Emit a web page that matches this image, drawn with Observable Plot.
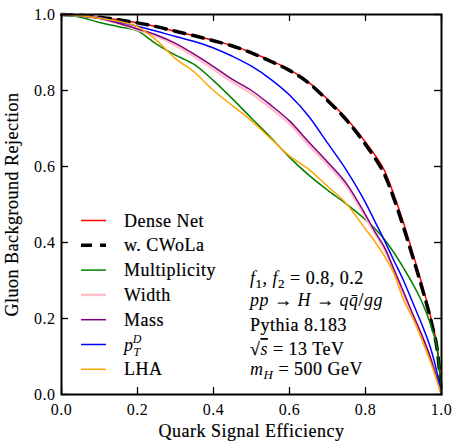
<!DOCTYPE html>
<html><head><meta charset="utf-8">
<script src="https://cdn.jsdelivr.net/npm/d3@7"></script>
<script src="https://cdn.jsdelivr.net/npm/@observablehq/plot@0.6"></script>
<style>html,body{margin:0;padding:0;background:#fff;} svg{display:block}</style>
</head><body><div id="chart"></div>
<script>
// Quark signal efficiency (x) sample points
const effic        = [0, 0.05, 0.1, 0.15, 0.2, 0.25, 0.3, 0.35, 0.4, 0.45, 0.5, 0.55, 0.6, 0.65, 0.7, 0.75, 0.8, 0.825, 0.85, 0.875, 0.9, 0.925, 0.95, 0.975, 0.99, 1.0];
// Gluon background rejection for each classifier
const denseNet     = [1, 0.998, 0.993, 0.986, 0.978, 0.968, 0.956, 0.944, 0.932, 0.918, 0.900, 0.879, 0.855, 0.822, 0.777, 0.726, 0.664, 0.630, 0.589, 0.525, 0.452, 0.370, 0.285, 0.190, 0.115, 0];
const cwola        = [1, 0.998, 0.993, 0.986, 0.978, 0.968, 0.956, 0.944, 0.931, 0.917, 0.899, 0.877, 0.853, 0.820, 0.774, 0.722, 0.658, 0.622, 0.579, 0.515, 0.440, 0.360, 0.276, 0.183, 0.108, 0];
const multiplicity = [1, 0.993, 0.979, 0.968, 0.957, 0.922, 0.893, 0.868, 0.826, 0.778, 0.727, 0.677, 0.624, 0.578, 0.538, 0.501, 0.460, 0.436, 0.408, 0.373, 0.333, 0.290, 0.240, 0.172, 0.110, 0];
const widthVar     = [1, 0.997, 0.990, 0.976, 0.960, 0.943, 0.919, 0.889, 0.856, 0.822, 0.792, 0.754, 0.712, 0.657, 0.605, 0.548, 0.467, 0.424, 0.382, 0.326, 0.266, 0.207, 0.150, 0.083, 0.034, 0];
const mass         = [1, 0.997, 0.990, 0.977, 0.962, 0.946, 0.924, 0.895, 0.863, 0.829, 0.800, 0.762, 0.720, 0.665, 0.612, 0.555, 0.473, 0.428, 0.387, 0.329, 0.270, 0.210, 0.152, 0.085, 0.035, 0];
const ptd          = [1, 0.997, 0.990, 0.981, 0.969, 0.956, 0.942, 0.929, 0.912, 0.890, 0.864, 0.830, 0.788, 0.733, 0.662, 0.590, 0.505, 0.455, 0.405, 0.352, 0.300, 0.240, 0.180, 0.110, 0.050, 0];
const lha          = [1, 0.997, 0.990, 0.982, 0.968, 0.932, 0.884, 0.848, 0.800, 0.760, 0.720, 0.674, 0.628, 0.593, 0.548, 0.502, 0.435, 0.402, 0.364, 0.318, 0.250, 0.200, 0.140, 0.075, 0.030, 0];

const seriesNames  = ["Dense Net", "w. CWoLa", "Multiplicity", "Width", "Mass", "pTD", "LHA"];
const seriesValues = [denseNet, cwola, multiplicity, widthVar, mass, ptd, lha];
const seriesColors = ["#ff0000", "#000000", "#008000", "#ffc0cb", "#800080", "#0000ff", "#ffa500"];
const seriesWidths = [1.5, 3.5, 1.5, 2.5, 1.5, 1.5, 1.5];
const seriesDash   = [null, "11,8", null, null, null, null, null];

const xTicks = [0, 0.2, 0.4, 0.6, 0.8, 1.0];
const yTicks = [0, 0.2, 0.4, 0.6, 0.8, 1.0];

const W = 453, H = 442, mL = 61, mR = 12, mT = 14, mB = 48;
const frameH = H - mT - mB, frameW = W - mL - mR, tickLen = 7;
const FONT = "Liberation Serif";
const EMB = 0.2; // slight emboldening to mimic the heavier TeX rendering

const lineMarks = seriesValues.map((vals, i) =>
  Plot.line(effic.map((e, j) => ({x: e, y: vals[j]})), {
    x: "x", y: "y", stroke: seriesColors[i], strokeWidth: seriesWidths[i],
    strokeDasharray: seriesDash[i], curve: "monotone-x"
  })
);

const plot = Plot.plot({
  width: W, height: H,
  marginLeft: mL, marginRight: mR, marginTop: mT, marginBottom: mB,
  x: {domain: [0, 1]},
  y: {domain: [0, 1]},
  style: {fontFamily: FONT, background: "#fff", color: "#000", letterSpacing: "0.5px"},
  marks: [
    ...lineMarks,
    Plot.frame({stroke: "#000", strokeWidth: 2}),
    Plot.tickX(xTicks, {x: d => d, insetTop: frameH - tickLen, stroke: "#000", strokeWidth: 1.3}),
    Plot.tickX(xTicks, {x: d => d, insetBottom: frameH - tickLen, stroke: "#000", strokeWidth: 1.3}),
    Plot.tickY(yTicks, {y: d => d, insetRight: frameW - tickLen, stroke: "#000", strokeWidth: 1.3}),
    Plot.tickY(yTicks, {y: d => d, insetLeft: frameW - tickLen, stroke: "#000", strokeWidth: 1.3}),
    Plot.axisX(xTicks, {tickSize: 0, tickPadding: 9, tickFormat: d3.format(".1f"), fontSize: 16, label: null}),
    Plot.axisY(yTicks, {tickSize: 0, tickPadding: 6, tickFormat: d3.format(".1f"), fontSize: 16, label: null}),
    Plot.text(["Quark Signal Efficiency"], {frameAnchor: "bottom", dy: 37, fontSize: 18, fill: "#000", stroke: "#000", strokeWidth: EMB, textAnchor: "middle", lineAnchor: "middle"}),
    Plot.text(["Gluon Background Rejection"], {frameAnchor: "left", dx: -49, rotate: -90, fontSize: 18, fill: "#000", stroke: "#000", strokeWidth: EMB, textAnchor: "middle", lineAnchor: "middle"})
  ]
});
document.getElementById("chart").appendChild(plot);

const svg = d3.select(plot);

// Legend
const leg = svg.append("g").attr("font-family", FONT).attr("font-size", 18)
  .attr("letter-spacing", "0.5px").attr("text-anchor", "start");
const legX1 = 81, legX2 = 106, legTextX = 124, legRow0 = 220.5, legStep = 24.8;
seriesNames.forEach((name, i) => {
  const y = legRow0 + i * legStep;
  leg.append("line").attr("x1", legX1).attr("x2", legX2).attr("y1", y).attr("y2", y)
    .attr("stroke", seriesColors[i]).attr("stroke-width", seriesWidths[i])
    .attr("stroke-dasharray", seriesDash[i]);
  const t = leg.append("text").attr("x", legTextX).attr("y", y + 6).attr("fill", "#000");
  if (name === "pTD") {
    t.append("tspan").attr("font-style", "italic").text("p");
    t.append("tspan").attr("font-style", "italic").attr("font-size", 12).attr("dy", 5).text("T");
    t.append("tspan").attr("font-style", "italic").attr("font-size", 12).attr("dx", -8).attr("dy", -13).text("D");
  } else {
    t.text(name).attr("stroke", "#000").attr("stroke-width", EMB);
  }
});

// Annotation
const ann = svg.append("g").attr("font-family", FONT).attr("font-size", 18)
  .attr("letter-spacing", "0.5px").attr("fill", "#000").attr("text-anchor", "start");
const annX = 250;
function rich(y, parts) {
  const t = ann.append("text").attr("x", annX).attr("y", y);
  parts.forEach(p => {
    const s = t.append("tspan").text(p.t);
    if (p.i) s.attr("font-style", "italic");
    else s.attr("stroke", "#000").attr("stroke-width", EMB);
    if (p.sub) s.attr("font-size", 13).attr("dy", 4);
    if (p.up) s.attr("dy", -4);
    if (p.ol) s.style("text-decoration", "overline");
  });
}
rich(284, [{t: "f", i: 1}, {t: "1", sub: 1}, {t: ", ", up: 1}, {t: "f", i: 1}, {t: "2", sub: 1}, {t: " = 0.8, 0.2", up: 1}]);
rich(306, [{t: "pp", i: 1}, {t: " → "}, {t: "H", i: 1}, {t: " → "}, {t: "q", i: 1}, {t: "q\u0304", i: 1}, {t: "/"}, {t: "gg", i: 1}]);
rich(331, [{t: "Pythia 8.183"}]);
rich(355, [{t: "√"}, {t: "s", i: 1, ol: 1}, {t: " = 13 TeV"}]);
rich(375, [{t: "m", i: 1}, {t: "H", i: 1, sub: 1}, {t: " = 500 GeV", up: 1}]);
</script>
</body></html>
